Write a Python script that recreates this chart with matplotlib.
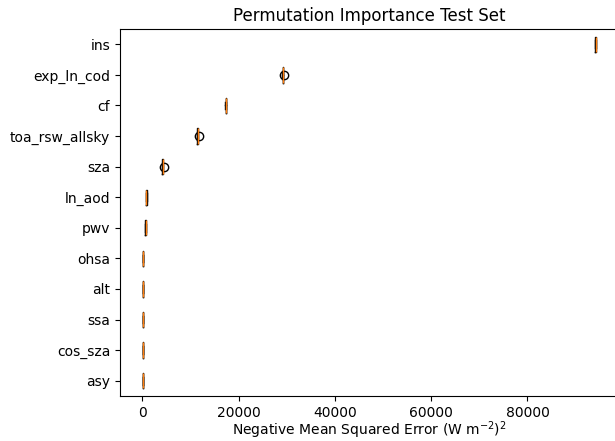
import matplotlib
matplotlib.use("Agg")
import matplotlib.pyplot as plt

# features ordered from bottom to top (as drawn by boxplot with vert=False)
features = ["asy", "cos_sza", "ssa", "alt", "ohsa", "pwv", "ln_aod",
            "sza", "toa_rsw_allsky", "cf", "exp_ln_cod", "ins"]

# repeated permutation importances per feature
asy = [40, 60, 70, 80, 95]
cos_sza = [45, 60, 75, 85, 100]
ssa = [50, 65, 80, 90, 105]
alt = [55, 70, 85, 95, 110]
ohsa = [60, 75, 90, 100, 115]
pwv = [560, 600, 630, 660, 690]
ln_aod = [760, 800, 830, 860, 890]
sza = [4050, 4120, 4170, 4220, 4450]
toa_rsw_allsky = [11330, 11400, 11460, 11520, 11760]
cf = [17200, 17250, 17290, 17330, 17380]
exp_ln_cod = [29030, 29110, 29170, 29230, 29470]
ins = [94050, 94120, 94180, 94240, 94300]

data = [asy, cos_sza, ssa, alt, ohsa, pwv, ln_aod, sza,
        toa_rsw_allsky, cf, exp_ln_cod, ins]

fig = plt.figure(figsize=(6.15, 4.41), dpi=100)
ax = fig.add_axes([120 / 615, 1 - 396 / 441, (619 - 120) / 615, (396 - 29) / 441])
ax.boxplot(data, vert=False, tick_labels=features)
ax.set_title("Permutation Importance Test Set")
ax.set_xlabel(r"Negative Mean Squared Error (W m$^{-2}$)$^2$", labelpad=0)
fig.savefig("out.png", dpi=100)
